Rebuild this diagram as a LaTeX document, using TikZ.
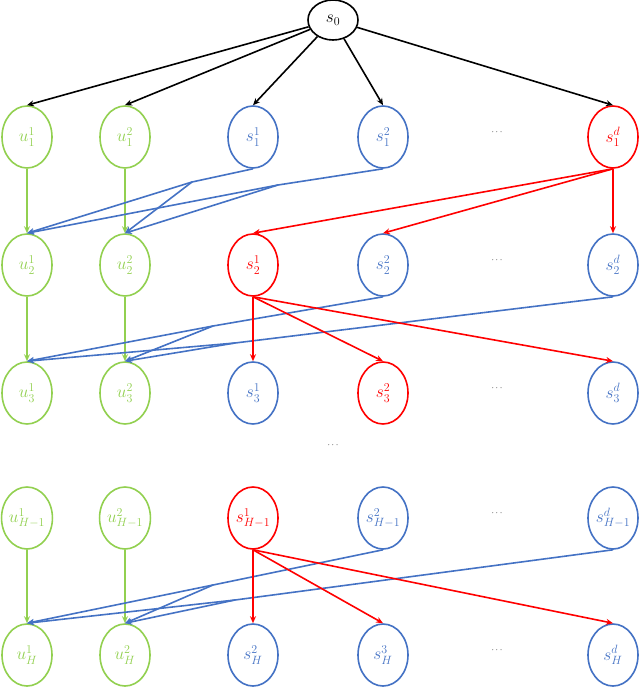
\documentclass[tikz,border=0pt]{standalone}
\usetikzlibrary{arrows.meta,shapes.geometric}
\definecolor{gr}{RGB}{146,208,80}
\definecolor{bl}{RGB}{68,114,196}
\definecolor{rd}{RGB}{255,0,0}
\begin{document}
\begin{tikzpicture}[x=1pt,y=-1pt,
  st/.style={draw,ellipse,line width=1.6pt,minimum width=50pt,minimum height=62pt,inner sep=0pt,font=\fontsize{18}{21}\selectfont},
  gn/.style={st,draw=gr,text=gr},
  bn/.style={st,draw=bl,text=bl},
  rn/.style={st,draw=rd,text=rd},
  ar/.style={line width=1.6pt,-{Stealth[length=7pt,width=6pt]}},
  dt/.style={font=\small}]
\useasboundingbox (0,0) rectangle (640,688);
\node[st,draw=black,minimum height=40pt] (s0) at (333,20) {$s_0$};
% row 1
\node[gn] (a1) at (27,137) {$u_1^1$};
\node[gn] (a2) at (125,137) {$u_1^2$};
\node[bn] (a3) at (253,137) {$s_1^1$};
\node[bn] (a4) at (383,137) {$s_1^2$};
\node[dt] (ad) at (497,132) {$\cdots$};
\node[rn] (a5) at (613,137) {$s_1^d$};
% row 2
\node[gn] (b1) at (27,265) {$u_2^1$};
\node[gn] (b2) at (125,265) {$u_2^2$};
\node[rn] (b3) at (253,265) {$s_2^1$};
\node[bn] (b4) at (383,265) {$s_2^2$};
\node[dt] (bd) at (497,260) {$\cdots$};
\node[bn] (b5) at (613,265) {$s_2^d$};
% row 3
\node[gn] (c1) at (27,393) {$u_3^1$};
\node[gn] (c2) at (125,393) {$u_3^2$};
\node[bn] (c3) at (253,393) {$s_3^1$};
\node[rn] (c4) at (383,393) {$s_3^2$};
\node[dt] (cd) at (497,388) {$\cdots$};
\node[bn] (c5) at (613,393) {$s_3^d$};
\node[dt] (vd) at (333,445) {$\cdots$};
% row H-1
\node[gn] (d1) at (27,518) {$u_{H-1}^1$};
\node[gn] (d2) at (125,518) {$u_{H-1}^2$};
\node[rn] (d3) at (253,518) {$s_{H-1}^1$};
\node[bn] (d4) at (383,518) {$s_{H-1}^2$};
\node[dt] (dd) at (497,513) {$\cdots$};
\node[bn] (d5) at (613,518) {$s_{H-1}^d$};
% row H
\node[gn] (e1) at (27,655) {$u_H^1$};
\node[gn] (e2) at (125,655) {$u_H^2$};
\node[bn] (e3) at (253,655) {$s_H^2$};
\node[bn] (e4) at (383,655) {$s_H^3$};
\node[dt] (ed) at (497,650) {$\cdots$};
\node[bn] (e5) at (613,655) {$s_H^d$};
% black
\foreach \n in {a1,a2,a3,a4,a5} \draw[ar] (s0) -- (\n.north);
% green
\foreach \p/\q in {a1/b1,a2/b2,b1/c1,b2/c2,d1/e1,d2/e2} \draw[ar,gr] (\p) -- (\q);
% blue junctions
\coordinate (j1) at (192,182); \coordinate (j2) at (278,185);
\coordinate (j3) at (213,326); \coordinate (j4) at (235,343);
\coordinate (j5) at (213,585); \coordinate (j6) at (235,600);
\begin{scope}[bl,line width=1.6pt]
\draw (a3.south) -- (j1); \draw[ar] (j1) -- (b1.north); \draw[ar] (j1) -- (b2.north);
\draw (a4.south) -- (j2); \draw[ar] (j2) -- (b1.north); \draw[ar] (j2) -- (b2.north);
\draw (b4.south) -- (j3); \draw[ar] (j3) -- (c1.north); \draw[ar] (j3) -- (c2.north);
\draw (b5.south) -- (j4); \draw[ar] (j4) -- (c1.north); \draw[ar] (j4) -- (c2.north);
\draw (d4.south) -- (j5); \draw[ar] (j5) -- (e1.north); \draw[ar] (j5) -- (e2.north);
\draw (d5.south) -- (j6); \draw[ar] (j6) -- (e1.north); \draw[ar] (j6) -- (e2.north);
\end{scope}
% red
\foreach \q in {b3,b4,b5} \draw[ar,rd] (a5.south) -- (\q.north);
\foreach \q in {c3,c4,c5} \draw[ar,rd] (b3.south) -- (\q.north);
\foreach \q in {e3,e4,e5} \draw[ar,rd] (d3.south) -- (\q.north);
\end{tikzpicture}
\end{document}
